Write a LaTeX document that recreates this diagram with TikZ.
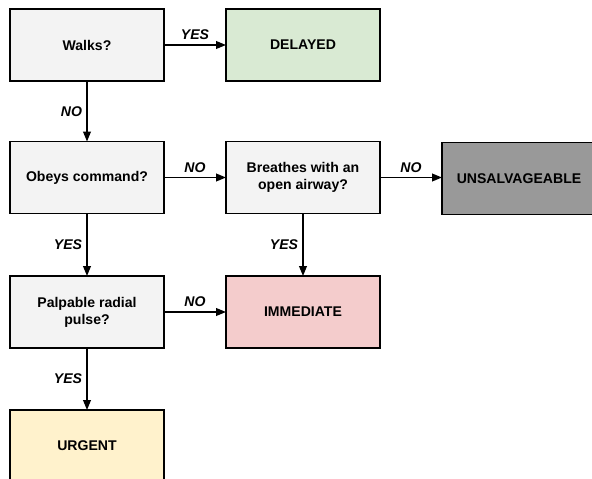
\documentclass[tikz,border=0pt]{standalone}
\usepackage{fontspec}
\setmainfont{Liberation Sans}
\usetikzlibrary{arrows.meta}
\definecolor{askfill}{HTML}{F3F3F3}
\definecolor{delayedfill}{HTML}{D9EAD3}
\definecolor{unsalvfill}{HTML}{999999}
\definecolor{immedfill}{HTML}{F4CCCC}
\definecolor{urgentfill}{HTML}{FFF2CC}
\begin{document}
\begin{tikzpicture}[x=0.025cm,y=-0.025cm,inner sep=0pt,outer sep=0pt,line width=0.9pt,
font=\fontsize{10}{12}\selectfont\bfseries,
triagebox/.style={draw,rectangle,minimum width=3.85cm,minimum height=1.8cm,align=center,line width=1.1pt},
answer/.style={font=\fontsize{10}{12}\selectfont\bfseries\itshape},
>={Triangle[length=7pt,width=5.5pt]}]
\useasboundingbox (0,0) rectangle (592,479);
\draw (87,45) node[triagebox,fill=askfill] (walks) {Walks?};
\draw (303,45) node[triagebox,fill=delayedfill] (delayed) {DELAYED};
\draw (87,177.5) node[triagebox,fill=askfill] (obeys) {Obeys command?};
\draw (303,177.5) node[triagebox,fill=askfill] (breathes) {Breathes with an\\open airway?};
\draw (519,178.5) node[triagebox,fill=unsalvfill] (unsalv) {UNSALVAGEABLE};
\draw (87,312) node[triagebox,fill=askfill] (pulse) {Palpable radial\\pulse?};
\draw (303,312) node[triagebox,fill=immedfill] (immed) {IMMEDIATE};
\draw (87,446) node[triagebox,fill=urgentfill] (urgent) {URGENT};

\draw[->] (walks) -- (delayed) node[midway,above=3.5pt,answer] {YES};
\draw[->] (walks) -- (obeys) node[midway,left=3.5pt,answer] {NO};
\draw[->] (obeys) -- (breathes) node[midway,above=3.5pt,answer] {NO};
\draw[->] (breathes.east) -- (breathes.east -| unsalv.west) node[midway,above=3.5pt,answer] {NO};
\draw[->] (obeys) -- (pulse) node[midway,left=3.5pt,answer] {YES};
\draw[->] (breathes) -- (immed) node[midway,left=3.5pt,answer] {YES};
\draw[->] (pulse) -- (immed) node[midway,above=3.5pt,answer] {NO};
\draw[->] (pulse) -- (urgent) node[midway,left=3.5pt,answer] {YES};
\end{tikzpicture}
\end{document}
